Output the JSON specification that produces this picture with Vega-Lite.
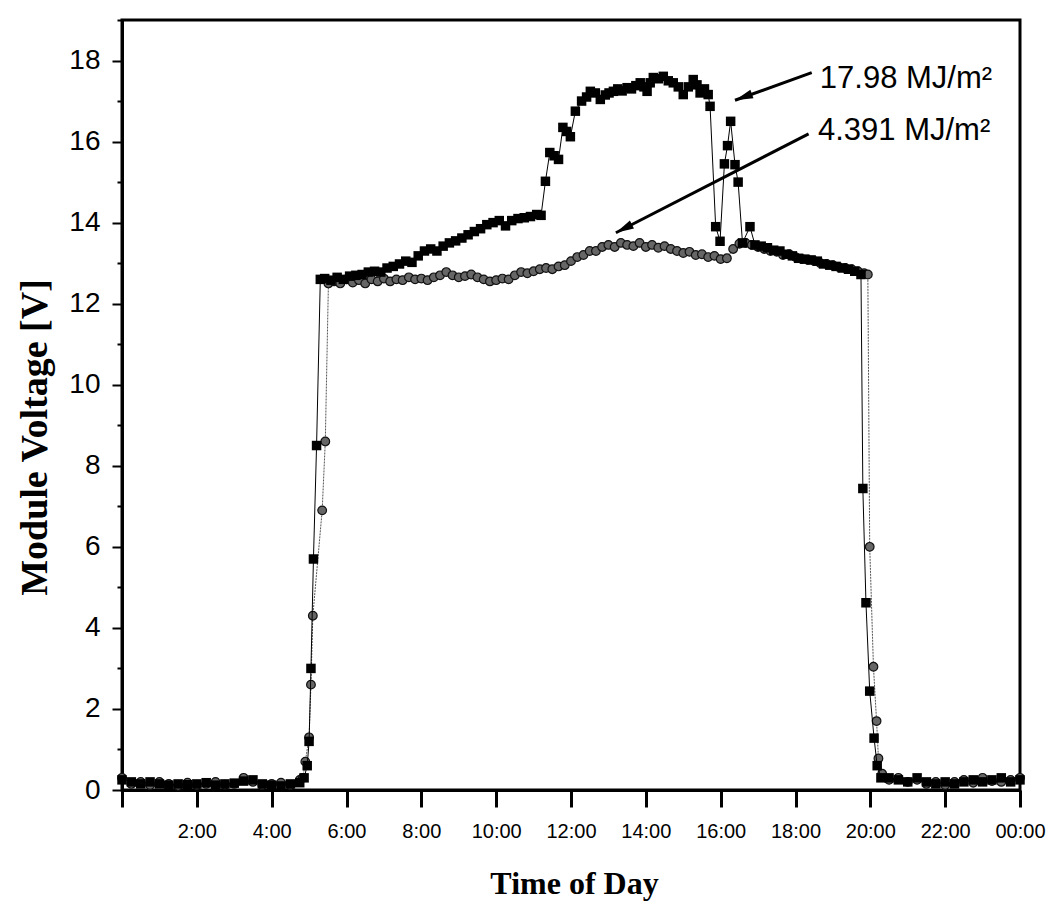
{
  "$schema": "https://vega.github.io/schema/vega-lite/v6.json",
  "width": 898,
  "height": 770,
  "autosize": {"type": "none"},
  "padding": {"left": 122, "top": 20, "right": 41, "bottom": 111},
  "background": "white",
  "config": {"view": {"stroke": "black", "strokeWidth": 3}},
  "datasets": {
    "sunny": [
      {"t":0,"v":0.25},{"t":15,"v":0.2},{"t":30,"v":0.15},{"t":45,"v":0.2},{"t":60,"v":0.15},{"t":75,"v":0.12},{"t":90,"v":0.15},{"t":105,"v":0.13},{"t":120,"v":0.15},{"t":135,"v":0.18},{"t":150,"v":0.12},{"t":165,"v":0.15},{"t":180,"v":0.17},{"t":195,"v":0.22},{"t":210,"v":0.25},{"t":225,"v":0.15},{"t":240,"v":0.12},{"t":255,"v":0.1},{"t":270,"v":0.15},{"t":285,"v":0.18},
      {"t":292,"v":0.3},{"t":297,"v":0.6},{"t":300,"v":1.2},{"t":303,"v":3.0},{"t":307,"v":5.7},{"t":312,"v":8.5},{"t":318,"v":12.6},
      {"t":325,"v":12.62},{"t":335,"v":12.58},{"t":345,"v":12.65},{"t":355,"v":12.6},{"t":365,"v":12.68},{"t":375,"v":12.7},{"t":385,"v":12.72},{"t":395,"v":12.78},{"t":405,"v":12.8},{"t":415,"v":12.78},{"t":425,"v":12.88},{"t":435,"v":12.92},{"t":445,"v":12.98},{"t":455,"v":13.05},{"t":465,"v":13.02},{"t":475,"v":13.18},{"t":485,"v":13.3},{"t":495,"v":13.35},{"t":505,"v":13.3},{"t":515,"v":13.42},{"t":525,"v":13.5},{"t":535,"v":13.55},{"t":545,"v":13.62},{"t":555,"v":13.7},{"t":565,"v":13.78},{"t":575,"v":13.85},{"t":585,"v":13.95},{"t":595,"v":14.0},{"t":605,"v":14.05},{"t":615,"v":13.92},{"t":625,"v":14.05},{"t":635,"v":14.1},{"t":645,"v":14.12},{"t":655,"v":14.15},{"t":665,"v":14.2},{"t":672,"v":14.18},
      {"t":679,"v":15.02},{"t":686,"v":15.73},{"t":693,"v":15.65},{"t":700,"v":15.56},{"t":707,"v":16.35},{"t":713,"v":16.25},{"t":719,"v":16.12},{"t":727,"v":16.75},{"t":737,"v":17.0},{"t":745,"v":17.1},{"t":751,"v":17.24},{"t":759,"v":17.2},{"t":767,"v":17.04},{"t":775,"v":17.15},{"t":781,"v":17.2},{"t":788,"v":17.24},{"t":795,"v":17.3},{"t":802,"v":17.25},{"t":810,"v":17.33},{"t":817,"v":17.3},{"t":824,"v":17.38},{"t":831,"v":17.45},{"t":837,"v":17.35},{"t":842,"v":17.24},{"t":847,"v":17.45},{"t":852,"v":17.58},{"t":860,"v":17.55},{"t":868,"v":17.61},{"t":876,"v":17.5},{"t":884,"v":17.45},{"t":892,"v":17.35},{"t":900,"v":17.16},{"t":908,"v":17.35},{"t":916,"v":17.53},{"t":922,"v":17.4},{"t":927,"v":17.2},{"t":934,"v":17.3},{"t":940,"v":17.16},{"t":943,"v":16.87},
      {"t":952,"v":13.9},{"t":959,"v":13.54},{"t":966,"v":15.45},{"t":971,"v":15.9},{"t":976,"v":16.5},{"t":983,"v":15.43},{"t":988,"v":15.0},{"t":995,"v":13.5},{"t":1007,"v":13.9},
      {"t":1015,"v":13.45},{"t":1025,"v":13.42},{"t":1035,"v":13.38},{"t":1045,"v":13.32},{"t":1055,"v":13.3},{"t":1065,"v":13.22},{"t":1075,"v":13.18},{"t":1085,"v":13.12},{"t":1095,"v":13.1},{"t":1105,"v":13.08},{"t":1115,"v":13.05},{"t":1125,"v":12.98},{"t":1135,"v":12.95},{"t":1145,"v":12.92},{"t":1155,"v":12.88},{"t":1165,"v":12.85},{"t":1175,"v":12.8},{"t":1185,"v":12.72},
      {"t":1188,"v":7.44},{"t":1193,"v":4.62},{"t":1199,"v":2.44},{"t":1206,"v":1.28},{"t":1211,"v":0.6},{"t":1217,"v":0.3},
      {"t":1230,"v":0.3},{"t":1245,"v":0.25},{"t":1260,"v":0.2},{"t":1275,"v":0.3},{"t":1290,"v":0.2},{"t":1305,"v":0.15},{"t":1320,"v":0.2},{"t":1335,"v":0.15},{"t":1350,"v":0.2},{"t":1365,"v":0.25},{"t":1380,"v":0.2},{"t":1395,"v":0.25},{"t":1410,"v":0.3},{"t":1425,"v":0.2},{"t":1440,"v":0.25}
    ],
    "cloudy": [
      {"t":0,"v":0.3},{"t":15,"v":0.15},{"t":30,"v":0.2},{"t":45,"v":0.12},{"t":60,"v":0.2},{"t":75,"v":0.15},{"t":90,"v":0.1},{"t":105,"v":0.18},{"t":120,"v":0.12},{"t":135,"v":0.15},{"t":150,"v":0.2},{"t":165,"v":0.13},{"t":180,"v":0.15},{"t":195,"v":0.3},{"t":210,"v":0.2},{"t":225,"v":0.12},{"t":240,"v":0.15},{"t":255,"v":0.18},{"t":270,"v":0.12},{"t":285,"v":0.25},
      {"t":290,"v":0.3},{"t":294,"v":0.7},{"t":300,"v":1.3},{"t":303,"v":2.6},{"t":306,"v":4.3},{"t":321,"v":6.9},{"t":326,"v":8.6},{"t":331,"v":12.5},
      {"t":340,"v":12.55},{"t":350,"v":12.5},{"t":360,"v":12.6},{"t":370,"v":12.52},{"t":380,"v":12.58},{"t":390,"v":12.5},{"t":400,"v":12.6},{"t":410,"v":12.55},{"t":420,"v":12.62},{"t":430,"v":12.55},{"t":440,"v":12.6},{"t":450,"v":12.58},{"t":460,"v":12.65},{"t":470,"v":12.6},{"t":480,"v":12.62},{"t":490,"v":12.58},{"t":500,"v":12.65},{"t":510,"v":12.7},{"t":520,"v":12.78},{"t":530,"v":12.7},{"t":540,"v":12.65},{"t":550,"v":12.68},{"t":560,"v":12.72},{"t":570,"v":12.65},{"t":580,"v":12.6},{"t":590,"v":12.55},{"t":600,"v":12.58},{"t":610,"v":12.62},{"t":620,"v":12.6},{"t":630,"v":12.7},{"t":640,"v":12.78},{"t":650,"v":12.75},{"t":660,"v":12.8},{"t":670,"v":12.85},{"t":680,"v":12.88},{"t":690,"v":12.85},{"t":700,"v":12.92},{"t":710,"v":12.95},{"t":720,"v":13.05},{"t":730,"v":13.15},{"t":740,"v":13.2},{"t":750,"v":13.3},{"t":760,"v":13.3},{"t":770,"v":13.4},{"t":780,"v":13.45},{"t":790,"v":13.4},{"t":800,"v":13.5},{"t":810,"v":13.45},{"t":820,"v":13.42},{"t":830,"v":13.5},{"t":840,"v":13.4},{"t":850,"v":13.45},{"t":860,"v":13.38},{"t":870,"v":13.42},{"t":880,"v":13.35},{"t":890,"v":13.3},{"t":900,"v":13.25},{"t":910,"v":13.28},{"t":920,"v":13.2},{"t":930,"v":13.22},{"t":940,"v":13.15},{"t":950,"v":13.18},{"t":960,"v":13.1},{"t":970,"v":13.12},{"t":980,"v":13.35},{"t":990,"v":13.48},{"t":1000,"v":13.5},{"t":1010,"v":13.45},{"t":1020,"v":13.4},{"t":1030,"v":13.35},{"t":1040,"v":13.3},{"t":1050,"v":13.28},{"t":1060,"v":13.2},{"t":1070,"v":13.22},{"t":1080,"v":13.15},{"t":1090,"v":13.1},{"t":1100,"v":13.08},{"t":1110,"v":13.05},{"t":1120,"v":13.0},{"t":1130,"v":12.98},{"t":1140,"v":12.95},{"t":1150,"v":12.9},{"t":1160,"v":12.88},{"t":1170,"v":12.85},{"t":1180,"v":12.8},{"t":1190,"v":12.75},{"t":1196,"v":12.72},
      {"t":1199,"v":6.0},{"t":1205,"v":3.04},{"t":1210,"v":1.7},{"t":1213,"v":0.78},{"t":1219,"v":0.4},
      {"t":1230,"v":0.25},{"t":1245,"v":0.3},{"t":1260,"v":0.2},{"t":1275,"v":0.25},{"t":1290,"v":0.15},{"t":1305,"v":0.2},{"t":1320,"v":0.12},{"t":1335,"v":0.2},{"t":1350,"v":0.25},{"t":1365,"v":0.18},{"t":1380,"v":0.3},{"t":1395,"v":0.22},{"t":1410,"v":0.2},{"t":1425,"v":0.25},{"t":1440,"v":0.3}
    ],
    "arrows": [
      {"t":1106,"v":17.70,"t2":983,"v2":17.02},
      {"t":1101,"v":16.19,"t2":792,"v2":13.75}
    ],
    "notes": [
      {"t":1119,"v":17.33,"label":"17.98 MJ/m²"},
      {"t":1116,"v":16.05,"label":"4.391 MJ/m²"}
    ]
  },
  "layer": [
    {
      "data": {"name": "cloudy"},
      "mark": {"type": "line", "color": "#555555", "strokeWidth": 1, "strokeDash": [2, 1]},
      "encoding": {
        "x": {
          "field": "t", "type": "quantitative",
          "scale": {"domain": [0, 1440], "nice": false, "zero": false},
          "axis": {
            "values": [0,60,120,180,240,300,360,420,480,540,600,660,720,780,840,900,960,1020,1080,1140,1200,1260,1320,1380,1440],
            "labelExpr": "datum.value % 120 === 0 && datum.value > 0 ? (datum.value === 1440 ? '00:00' : (datum.value / 60) + ':00') : ''",
            "tickSize": {"condition": {"test": "datum.value % 120 === 0", "value": 17}, "value": 11},
            "tickWidth": 3, "tickColor": "black",
            "domainColor": "black", "domainWidth": 3,
            "labelFont": "Liberation Sans", "labelFontSize": 20, "labelColor": "black",
            "labelPadding": 14, "labelOverlap": false, "labelFlush": false,
            "grid": false,
            "title": "Time of Day",
            "titleFont": "Liberation Serif", "titleFontWeight": "bold", "titleFontSize": 32, "titleColor": "black",
            "titleX": 452, "titleY": 103, "titleBaseline": "alphabetic", "titleAlign": "center"
          }
        },
        "y": {
          "field": "v", "type": "quantitative",
          "scale": {"domain": [0, 19], "nice": false, "zero": false},
          "axis": {
            "values": [0,1,2,3,4,5,6,7,8,9,10,11,12,13,14,15,16,17,18,19],
            "labelExpr": "datum.value % 2 === 0 && datum.value < 19 ? '' + datum.value : ''",
            "tickSize": {"condition": {"test": "datum.value % 2 === 0", "value": 10}, "value": 5},
            "tickWidth": 2, "tickColor": "black",
            "domainColor": "black", "domainWidth": 3,
            "labelFont": "Liberation Sans", "labelFontSize": 28, "labelColor": "black",
            "labelPadding": 12, "labelOverlap": false, "labelFlush": false,
            "grid": false,
            "title": "Module Voltage [V]",
            "titleFont": "Liberation Serif", "titleFontWeight": "bold", "titleFontSize": 38, "titleColor": "black",
            "titleAngle": -90, "titleX": -76, "titleY": 417, "titleBaseline": "alphabetic", "titleAlign": "center"
          }
        }
      }
    },
    {
      "data": {"name": "cloudy"},
      "mark": {"type": "point", "shape": "circle", "filled": true, "fill": "#666666", "stroke": "#111111", "strokeWidth": 1.2, "size": 75, "opacity": 1},
      "encoding": {
        "x": {"field": "t", "type": "quantitative"},
        "y": {"field": "v", "type": "quantitative"}
      }
    },
    {
      "data": {"name": "sunny"},
      "mark": {"type": "line", "color": "black", "strokeWidth": 1},
      "encoding": {
        "x": {"field": "t", "type": "quantitative"},
        "y": {"field": "v", "type": "quantitative"}
      }
    },
    {
      "data": {"name": "sunny"},
      "mark": {"type": "point", "shape": "square", "filled": true, "color": "black", "size": 90, "opacity": 1},
      "encoding": {
        "x": {"field": "t", "type": "quantitative"},
        "y": {"field": "v", "type": "quantitative"}
      }
    },
    {
      "data": {"name": "arrows"},
      "mark": {"type": "rule", "color": "black", "strokeWidth": 3},
      "encoding": {
        "x": {"field": "t", "type": "quantitative"},
        "y": {"field": "v", "type": "quantitative"},
        "x2": {"field": "t2"},
        "y2": {"field": "v2"}
      }
    },
    {
      "data": {"values": [{"t": 983, "v": 17.02}]},
      "mark": {"type": "point", "shape": "M0,0L0.45,1.8L-0.45,1.8Z", "filled": true, "color": "black", "size": 400, "opacity": 1, "angle": 250},
      "encoding": {
        "x": {"field": "t", "type": "quantitative"},
        "y": {"field": "v", "type": "quantitative"}
      }
    },
    {
      "data": {"values": [{"t": 792, "v": 13.75}]},
      "mark": {"type": "point", "shape": "M0,0L0.45,1.8L-0.45,1.8Z", "filled": true, "color": "black", "size": 400, "opacity": 1, "angle": 243},
      "encoding": {
        "x": {"field": "t", "type": "quantitative"},
        "y": {"field": "v", "type": "quantitative"}
      }
    },
    {
      "data": {"name": "notes"},
      "mark": {"type": "text", "align": "left", "baseline": "alphabetic", "font": "Liberation Sans", "fontSize": 31, "color": "black"},
      "encoding": {
        "x": {"field": "t", "type": "quantitative"},
        "y": {"field": "v", "type": "quantitative"},
        "text": {"field": "label"}
      }
    }
  ]
}
